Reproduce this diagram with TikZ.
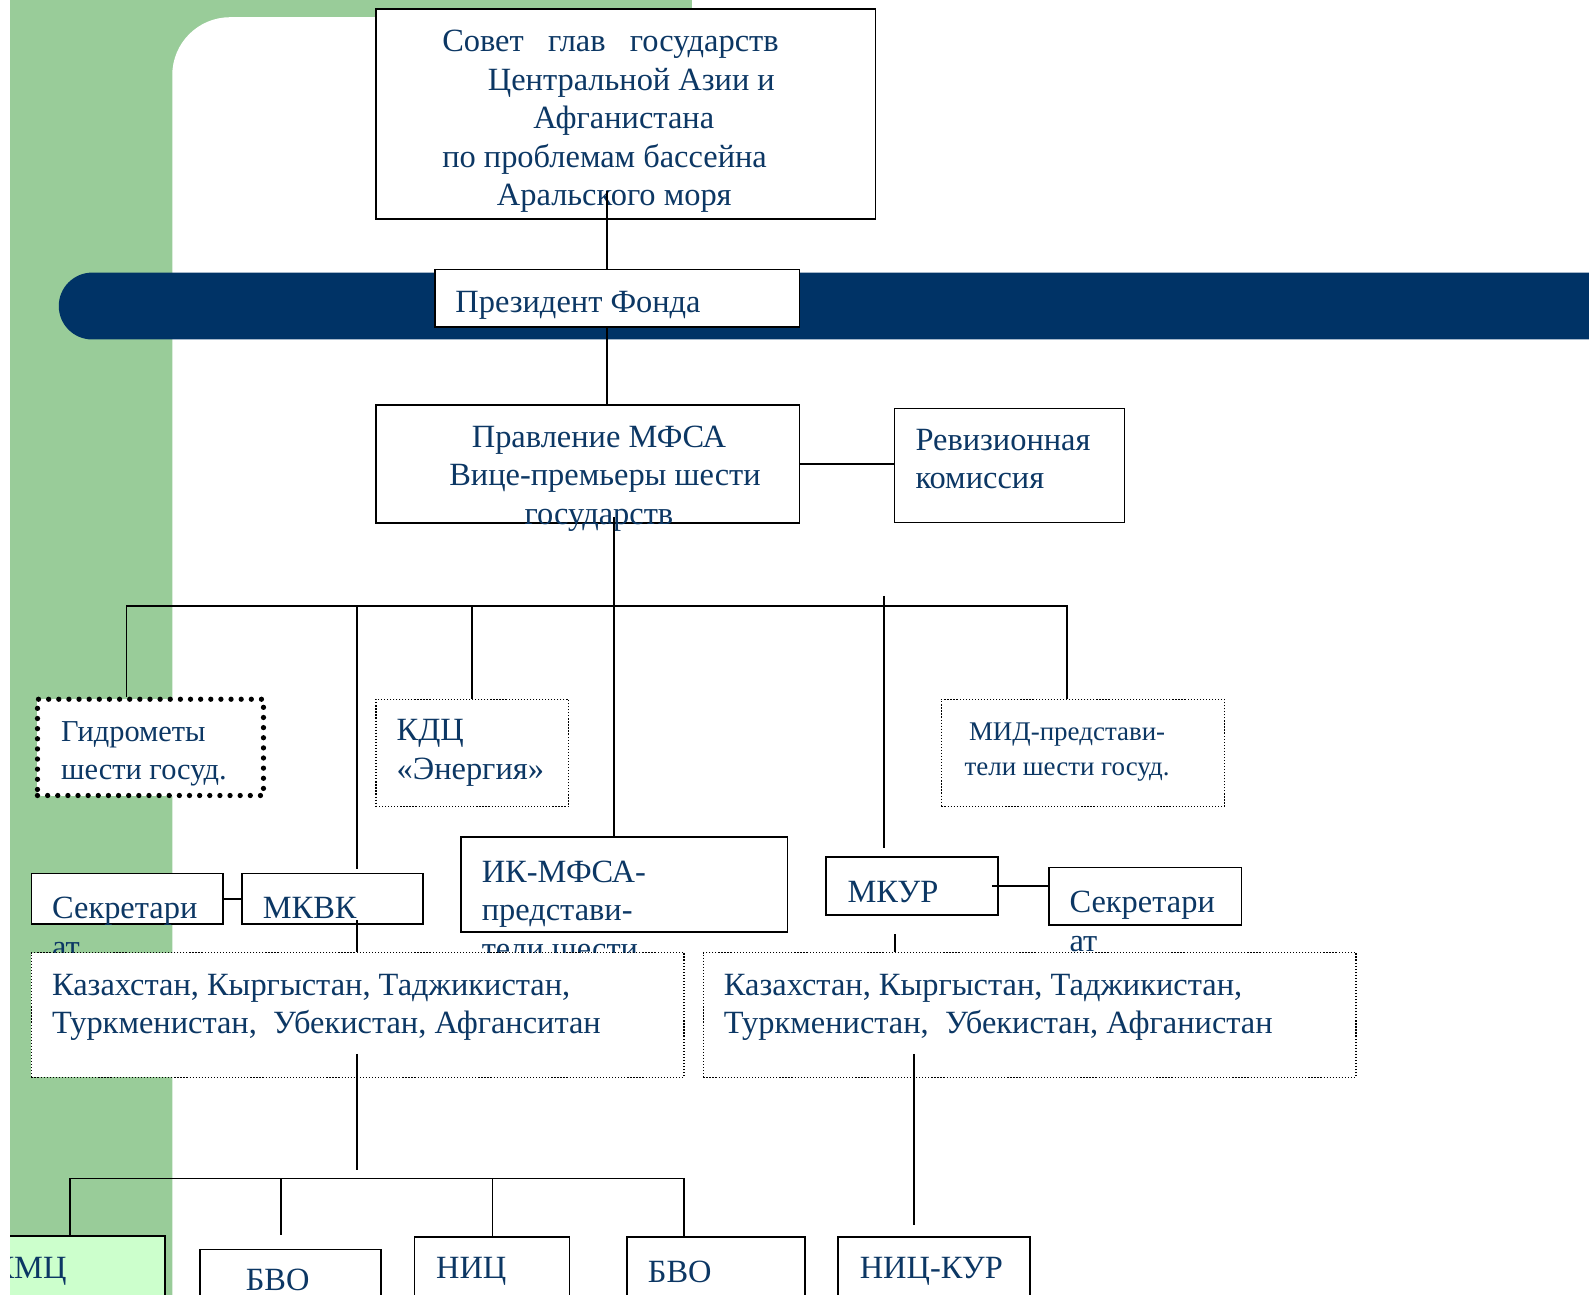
\documentclass[tikz,border=0pt]{standalone}
\usepackage{fontspec}
\setmainfont{Liberation Serif}
\usetikzlibrary{fit}

\definecolor{panelgreen}{RGB}{153,204,153}
\definecolor{palegreen}{RGB}{204,255,204}
\definecolor{bandblue}{RGB}{0,51,102}
\definecolor{inkblue}{RGB}{12,55,100}

\tikzset{
    frame/.style={draw, line width=0.9pt, fill=white, inner sep=0pt},
    thinframe/.style={draw, line width=0.5pt, fill=white, inner sep=0pt},
    dotframe/.style={draw, line width=0.6pt, dash pattern=on 0.6pt off 0.9pt, fill=white, inner sep=0pt},
    bigdots/.style={draw, line width=2.6pt, line cap=round, dash pattern=on 0pt off 5pt, fill=white, inner sep=0pt},
    lbl/.style={text=inkblue, font=\fontsize{16}{19}\selectfont, inner sep=0pt, align=left, anchor=west},
    small/.style={font=\fontsize{13.3}{17}\selectfont},
    wire/.style={line width=0.8pt}
}

\begin{document}
\begin{tikzpicture}[x=0.5pt, y=-0.5pt]
    \useasboundingbox (0,0) rectangle (1568,1277);
    \fill[white] (0,0) rectangle (1568,1277);
    \begin{scope}
    \clip (10,0) rectangle (1568,1277);
    \fill[panelgreen] (10,0) rectangle (683,1290);
    \fill[white, rounded corners=28.5pt] (170,17) rectangle (1650,1400);
    \fill[bandblue, rounded corners=16.5pt] (58,269) rectangle (1650,335);

    \node[frame, fit={(371,9) (864,216)}] (sovet) {};
    \node[lbl] (tSovet) at (436,120) {Совет\hspace{12pt}глав\hspace{12pt}государств\\
        \hspace*{22.5pt}Центральной Азии и\\ \hspace*{45pt}Афганистана\\
        по проблемам бассейна\\ \hspace*{27pt}Аральского моря};
    \node[frame, fit={(429,266) (789,323)}] (pres) {};
    \node[lbl] (tPres) at (449,301) {Президент Фонда};
    \node[frame, fit={(371,400) (789,516)}] (prav) {};
    \node[lbl, align=center, anchor=center] (tPrav) at (591,472) {Правление МФСА\\ \hspace*{6pt}Вице-премьеры шести\\ государств};
    \node[thinframe, fit={(883,403) (1110,516)}] (rev) {};
    \node[lbl] (tRev) at (903,453) {Ревизионная\\ комиссия};

    \node[bigdots, fit={(37,690) (260,785)}] (gidro) {};
    \node[lbl, font=\fontsize{15}{19}\selectfont] (tGidro) at (60,744) {Гидрометы\\ шести госуд.};
    \node[dotframe, fit={(371,690) (561,796)}] (kdc) {};
    \node[lbl] (tKdc) at (391,743) {КДЦ\\ «Энергия»};
    \node[dotframe, fit={(929,690) (1208,796)}] (mid) {};
    \node[lbl, small, align=center, anchor=center] (tMid) at (1053,742) {МИД-представи-\\ тели шести госуд.};

    \node[frame, fit={(455,826) (777,920)}] (ik) {};
    \node[lbl] (tIk) at (475,898) {ИК-МФСА-\\ представи-\\ тели шести};
    \node[frame, fit={(31,862) (220,912)}] (sec1) {};
    \node[lbl] (tSec1) at (51,915) {Секретари\\ ат};
    \node[frame, fit={(239,862) (417,912)}] (mkvk) {};
    \node[lbl] (tMkvk) at (259,896) {МКВК};
    \node[frame, fit={(815,846) (985,903)}] (mkur) {};
    \node[lbl] (tMkur) at (836,880) {МКУР};
    \node[frame, fit={(1035,856) (1225,913)}] (sec2) {};
    \node[lbl] (tSec2) at (1055,909) {Секретари\\ ат};

    \node[dotframe, fit={(31,940) (675,1063)}] (kaz1) {};
    \node[lbl] (tKaz1) at (51,994) {Казахстан, Кыргыстан, Таджикистан,\\ Туркменистан,\ \ Убекистан, Афганситан};
    \node[dotframe, fit={(694,940) (1338,1063)}] (kaz2) {};
    \node[lbl] (tKaz2) at (714,994) {Казахстан, Кыргыстан, Таджикистан,\\ Туркменистан,\ \ Убекистан, Афганистан};

    \node[frame, fill=palegreen, fit={(-60,1220) (163,1320)}] (kmc) {};
    \node[lbl, anchor=east] (tKmc) at (66,1255) {КМЦ};
    \node[frame, fit={(197,1233) (376,1320)}] (bvoA) {};
    \node[lbl, anchor=center] (tBvoA) at (274,1263) {БВО};
    \node[frame, fit={(409,1221) (562,1320)}] (nic) {};
    \node[lbl] (tNic) at (430,1255) {НИЦ};
    \node[frame, fit={(619,1221) (794,1320)}] (bvoB) {};
    \node[lbl] (tBvoB) at (639,1255) {БВО};
    \node[frame, fit={(827,1221) (1016,1320)}] (nickur) {};
    \node[lbl] (tNicKur) at (848,1255) {НИЦ-КУР};

    \coordinate (a1) at (599,188);
    \coordinate (a2) at (606,510);
    \coordinate (busL) at (125,598);
    \coordinate (busR) at (1053,598);
    \coordinate (b2) at (352,598);
    \coordinate (b3) at (466,598);
    \coordinate (b5) at (872,588);
    \coordinate (c2) at (352,908);
    \coordinate (d2) at (352,1040);
    \coordinate (g1) at (883,922);
    \coordinate (h1) at (902,1040);
    \coordinate (f1) at (69,1163);
    \coordinate (f2) at (277,1163);
    \coordinate (f3) at (486,1163);
    \coordinate (f4) at (675,1163);

    \draw[wire] (a1) -- (a1 |- pres.north) (a1 |- pres.south) -- (a1 |- prav.north);
    \draw[wire] (prav.east) -- (prav.east -| rev.west);
    \draw[wire] (a2) -- (a2 |- ik.north);
    \draw[wire] (busL |- gidro.north) -- (busL) -- (busR) -- (busR |- mid.north);
    \draw[wire] (b2) -- ([yshift=2pt]b2 |- mkvk.north);
    \draw[wire] (b3) -- (b3 |- kdc.north);
    \draw[wire] (b5) -- ([yshift=4pt]b5 |- mkur.north);
    \draw[wire] (sec1.east) -- (mkvk.west);
    \draw[wire] ([xshift=-3.5pt]mkur.east) -- (mkur.east -| sec2.west);
    \draw[wire] (c2) -- (c2 |- kaz1.north);
    \draw[wire] (g1) -- (g1 |- kaz2.north);
    \draw[wire] (d2) -- ++(0,115);
    \draw[wire] (h1) -- ([yshift=5.5pt]h1 |- nickur.north);
    \draw[wire] (f1 |- kmc.north) -- (f1) -- (f4) -- (f4 |- bvoB.north);
    \draw[wire] (f2) -- ([yshift=6.5pt]f2 |- bvoA.north);
    \draw[wire] (f3) -- (f3 |- nic.north);
    \end{scope}
\end{tikzpicture}
\end{document}
